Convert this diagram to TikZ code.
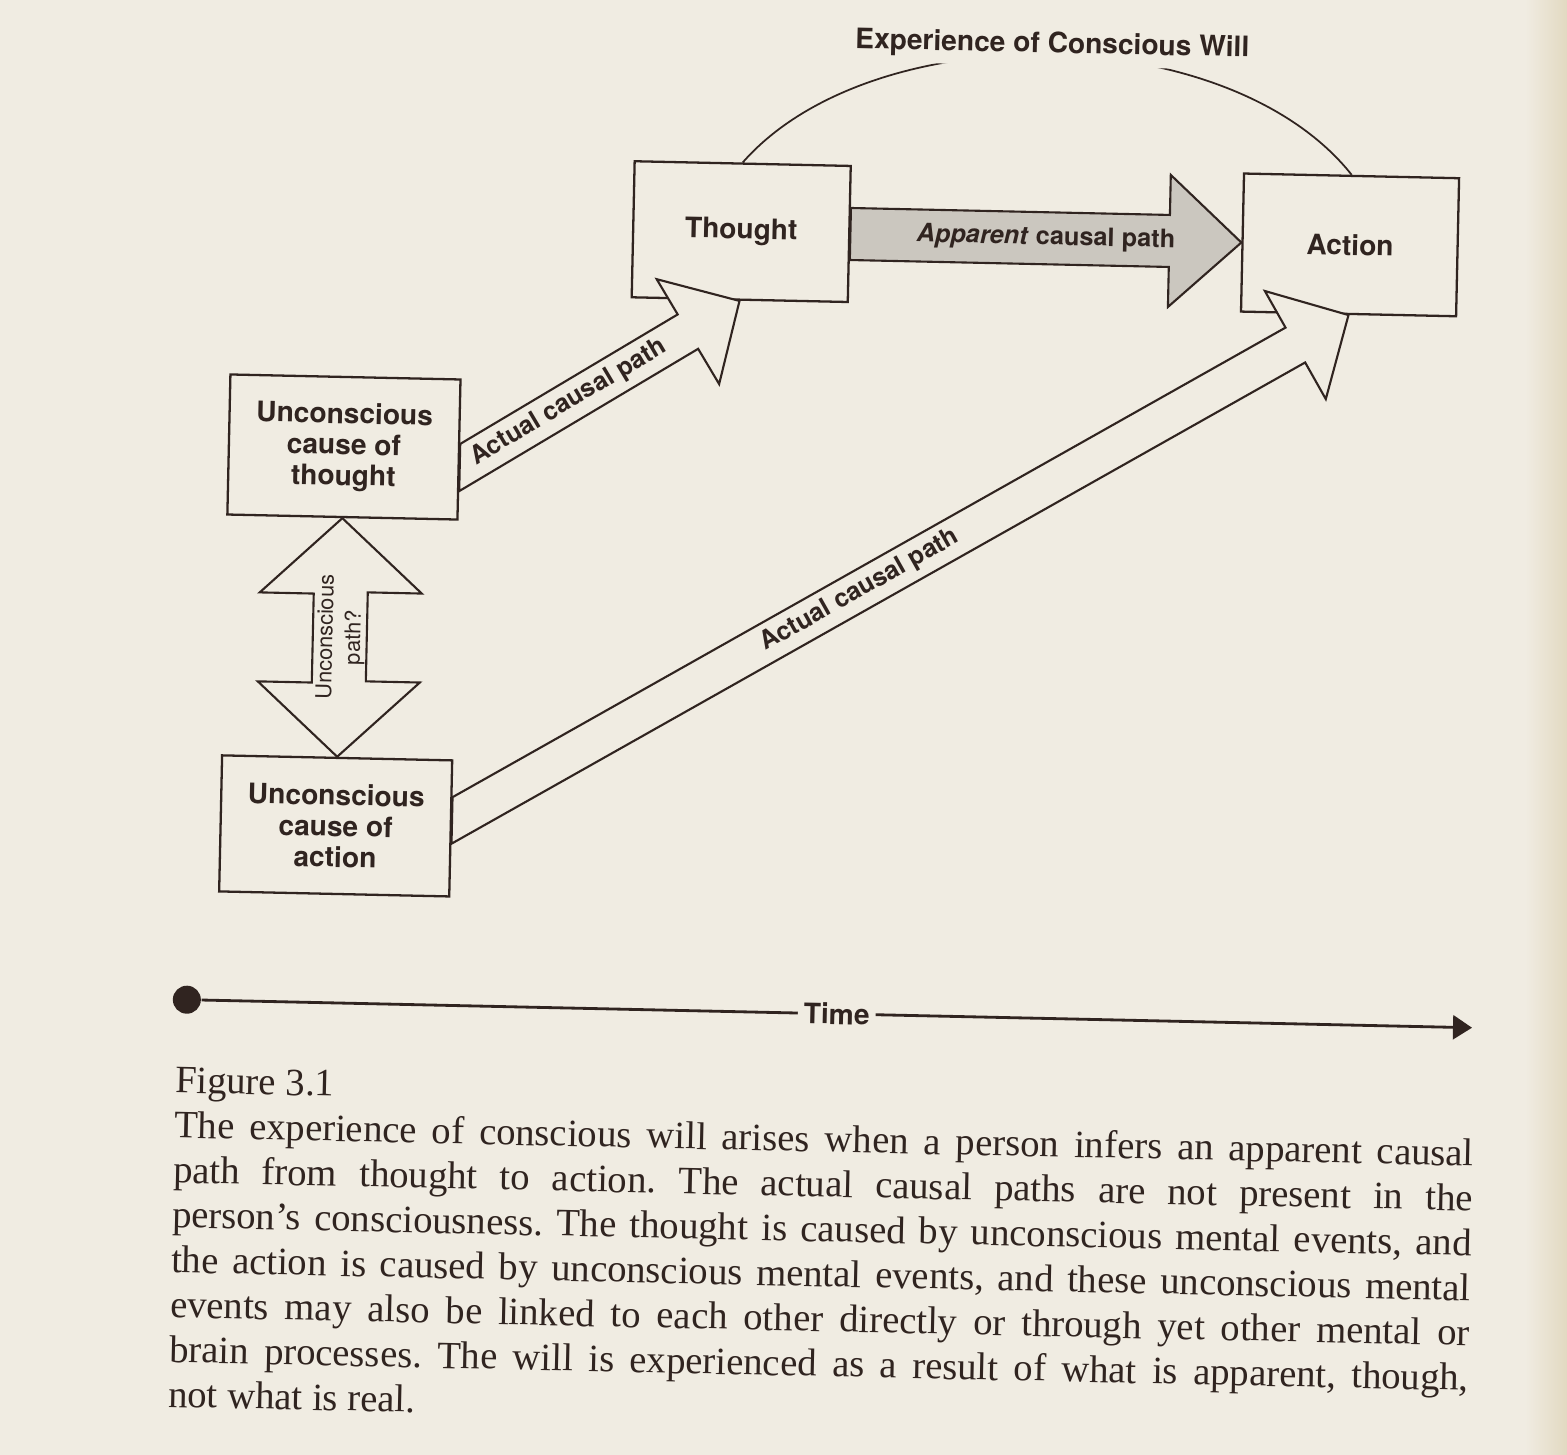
\documentclass[tikz,border=0pt]{standalone}
\usepackage{fontspec}
\setmainfont{Liberation Serif}
\setsansfont{TeX Gyre Heros}
\usetikzlibrary{calc,arrows.meta}
\frenchspacing

\definecolor{paper}{RGB}{240,236,226}
\definecolor{paperedge}{RGB}{226,217,193}
\definecolor{ink}{RGB}{48,36,32}
\definecolor{screen}{RGB}{203,199,191}

\tikzset{
  box/.style={draw=ink, fill=paper, line width=0.65pt, inner sep=0pt, align=center,
    font=\sffamily\bfseries\fontsize{8}{8.8}\selectfont},
  fat/.style={draw=ink, fill=paper, line width=0.6pt, line join=miter},
  pathlabel/.style={inner sep=0pt, font=\sffamily\bfseries\fontsize{7.2}{8}\selectfont},
}

\newcommand{\fatarrow}[6][]{%
  \draw[fat,#1] let \p1=($(#3)-(#2)$), \n1={atan2(\y1,\x1)}, \n2={veclen(\x1,\y1)},
      \n3={#4*tan(\n1)} in [shift={(#2)}, rotate=\n1]
    (-\n3,-#4) -- ({\n2-#6},-#4) -- ({\n2-#6},-#5) -- (\n2,0pt)
    -- ({\n2-#6},#5) -- ({\n2-#6},#4) -- (\n3,#4) -- cycle;}
\newcommand{\capline}[1]{\makebox[12.99cm][s]{#1}}

\begin{document}
\begin{tikzpicture}[x=0.01cm, y=-0.01cm, color=ink]
\fill[paper] (0,0) rectangle (1567,1455);
\shade[left color=paper, right color=paperedge] (1525,0) rectangle (1567,1455);
\useasboundingbox (0,0) rectangle (1567,1455);

\begin{scope}[transform canvas={rotate around={-1.25:(800,700)}}]
  \node[box, minimum width=2.16cm, minimum height=1.36cm] (thought) at (731,233) {Thought};
  \node[box, minimum width=2.15cm, minimum height=1.38cm] (action) at (1340,233) {Action};
  \node[box, minimum width=2.3cm, minimum height=1.4cm] (uthought) at (338.5,457) {Unconscious\\cause of\\thought};
  \node[box, minimum width=2.3cm, minimum height=1.36cm] (uaction) at (338.5,836) {Unconscious\\cause of\\action};

  \draw[line width=0.5pt] (thought.north) .. controls +(127,-151) and +(-127,-153) .. (action.north);
  \node[fill=paper, inner xsep=0.05cm, inner ysep=0.07cm, font=\sffamily\bfseries\fontsize{8}{9}\selectfont] (will) at (1038,40) {Experience of Conscious Will};

  \coordinate (t1) at ($(uthought.east)+(0,18)$);
  \coordinate (t2) at ($(uaction.east)+(0,-8)$);
  \fatarrow{t1}{thought.south}{0.2cm}{0.61cm}{0.6cm}
  \fatarrow{t2}{action.south}{0.2cm}{0.62cm}{0.61cm}
  \fatarrow[fill=screen]{thought.east}{action.west}{0.26cm}{0.66cm}{0.72cm}
  \path (t1) -- (thought.south) node[pathlabel, sloped, pos=0.39] (actual1) {Actual causal path};
  \path (t2) -- (action.south) node[pathlabel, sloped, pos=0.455] (actual2) {Actual causal path};
  \path (thought.east) -- (action.west) node[pathlabel, midway] (apparent) {\textit{Apparent} causal path};

  \draw[fat] (uthought.south) -- ++(-81,76) -- ++(54,0) -- ++(0,89) -- ++(-54,0) -- (uaction.north)
    -- ++(81,-76) -- ++(-54,0) -- ++(0,-89) -- ++(54,0) -- cycle;
  \path (uthought.south) -- (uaction.north) node[midway, xshift=0.01cm, rotate=90, align=center, inner sep=0pt,
    font=\sffamily\fontsize{6.2}{7.9}\selectfont] (upath) {Unconscious\\path?};

  \node[circle, fill=ink, minimum size=0.28cm, inner sep=0pt] (t0) at (193.5,1013) {};
  \coordinate (tend) at (1479,1013);
  \draw[line width=0.8pt, -{Triangle[length=0.19cm,width=0.24cm]}] (t0) -- (tend)
    node[midway, fill=paper, inner xsep=0.06cm, font=\sffamily\bfseries\fontsize{8}{9}\selectfont] (time) {Time};

  \node[anchor=north west, inner sep=0pt, align=left, font=\fontsize{11}{12.77}\selectfont] (caption) at (183,1080) {%
    Figure 3.1\\
    \capline{The experience of conscious will arises when a person infers an apparent causal}\\
    \capline{path from thought to action. The actual causal paths are not present in the}\\
    \capline{person’s consciousness. The thought is caused by unconscious mental events, and}\\
    \capline{the action is caused by unconscious mental events, and these unconscious mental}\\
    \capline{events may also be linked to each other directly or through yet other mental or}\\
    \capline{brain processes. The will is experienced as a result of what is apparent, though,}\\
    not what is real.};
\end{scope}
\end{tikzpicture}
\end{document}
